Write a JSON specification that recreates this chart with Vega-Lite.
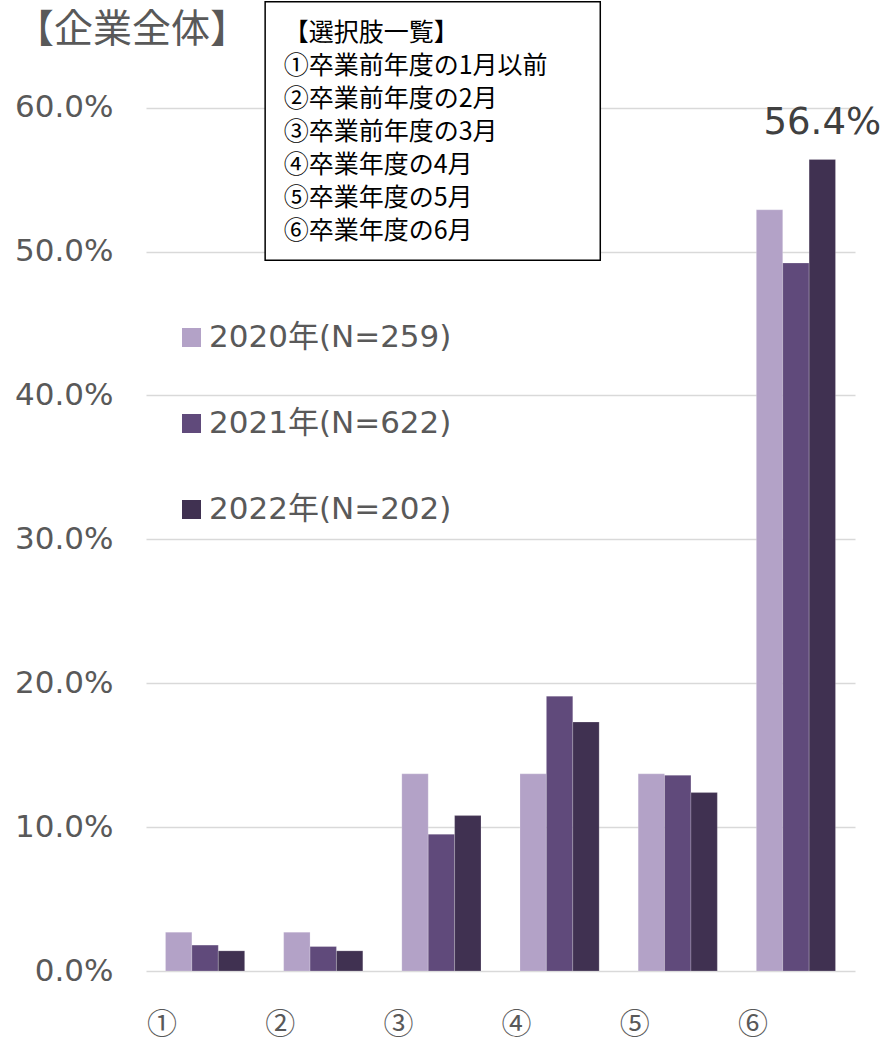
{
  "$schema": "https://vega.github.io/schema/vega-lite/v6.json",
  "width": 709,
  "height": 971,
  "autosize": "none",
  "padding": {"left": 146, "top": 0, "right": 27, "bottom": 70},
  "background": "white",
  "view": {"stroke": null},
  "datasets": {
    "bars": [
      {"cat": "①", "year": "2020年(N=259)", "value": 0.027},
      {"cat": "①", "year": "2021年(N=622)", "value": 0.018},
      {"cat": "①", "year": "2022年(N=202)", "value": 0.014},
      {"cat": "②", "year": "2020年(N=259)", "value": 0.027},
      {"cat": "②", "year": "2021年(N=622)", "value": 0.017},
      {"cat": "②", "year": "2022年(N=202)", "value": 0.014},
      {"cat": "③", "year": "2020年(N=259)", "value": 0.137},
      {"cat": "③", "year": "2021年(N=622)", "value": 0.095},
      {"cat": "③", "year": "2022年(N=202)", "value": 0.108},
      {"cat": "④", "year": "2020年(N=259)", "value": 0.137},
      {"cat": "④", "year": "2021年(N=622)", "value": 0.191},
      {"cat": "④", "year": "2022年(N=202)", "value": 0.173},
      {"cat": "⑤", "year": "2020年(N=259)", "value": 0.137},
      {"cat": "⑤", "year": "2021年(N=622)", "value": 0.136},
      {"cat": "⑤", "year": "2022年(N=202)", "value": 0.124},
      {"cat": "⑥", "year": "2020年(N=259)", "value": 0.529},
      {"cat": "⑥", "year": "2021年(N=622)", "value": 0.492},
      {"cat": "⑥", "year": "2022年(N=202)", "value": 0.564}
    ],
    "note": [
      {"title": "【企業全体】", "lines": ["【選択肢一覧】", "①卒業前年度の1月以前", "②卒業前年度の2月", "③卒業前年度の3月", "④卒業年度の4月", "⑤卒業年度の5月", "⑥卒業年度の6月"]}
    ]
  },
  "layer": [
    {
      "data": {"name": "bars"},
      "mark": {"type": "bar", "stroke": "white", "strokeWidth": 0.5, "strokeOpacity": 0.4},
      "encoding": {
        "x": {
          "field": "cat", "type": "nominal", "sort": null,
          "scale": {"paddingInner": 0.33, "paddingOuter": 0.165},
          "axis": {
            "title": null, "labelAngle": 0, "ticks": false, "tickSize": 0, "domain": false,
            "labelFontSize": 30, "labelColor": "#595959", "labelFont": "Noto Sans CJK JP",
            "labelPadding": 38, "labelOffset": -43
          }
        },
        "xOffset": {"field": "year", "type": "nominal", "scale": {"paddingInner": 0, "paddingOuter": 0}},
        "y": {
          "field": "value", "type": "quantitative",
          "scale": {"domain": [0, 0.6748], "nice": false, "zero": true},
          "axis": {
            "title": null, "values": [0, 0.1, 0.2, 0.3, 0.4, 0.5, 0.6], "format": ".1%",
            "ticks": false, "domain": false, "labelPadding": 33,
            "labelFontSize": 31, "labelColor": "#595959", "labelFont": "DejaVu Sans",
            "gridColor": "#d9d9d9", "gridWidth": 1.5
          }
        },
        "color": {
          "field": "year", "type": "nominal",
          "scale": {"range": ["#b3a2c7", "#604a7b", "#403151"]},
          "legend": {
            "title": null, "orient": "none", "legendX": 30, "legendY": 322,
            "symbolType": "square", "symbolSize": 361, "symbolStrokeWidth": 0,
            "labelFontSize": 31, "labelColor": "#595959", "labelFont": "DejaVu Sans, Noto Sans CJK JP",
            "rowPadding": 54, "labelOffset": 2, "labelLimit": 500
          }
        }
      }
    },
    {
      "data": {"name": "bars"},
      "transform": [{"filter": "datum.cat === '⑥' && datum.year === '2022年(N=202)'"}],
      "mark": {"type": "text", "fontSize": 37, "font": "DejaVu Sans", "color": "#404040", "baseline": "alphabetic", "dy": -25, "align": "center"},
      "encoding": {
        "x": {"field": "cat", "type": "nominal", "sort": null},
        "xOffset": {"field": "year", "type": "nominal"},
        "y": {"field": "value", "type": "quantitative"},
        "text": {"field": "value", "type": "quantitative", "format": ".1%"}
      }
    },
    {
      "data": {"name": "note"},
      "mark": {"type": "text", "fontSize": 39, "font": "Noto Sans CJK JP", "color": "#595959", "align": "left", "baseline": "middle"},
      "encoding": {
        "x": {"datum": "①", "bandPosition": -1.9},
        "y": {"datum": 0.654},
        "text": {"field": "title"}
      }
    },
    {
      "data": {"name": "note"},
      "mark": {"type": "rect", "fill": "white", "stroke": "black", "strokeWidth": 1.5},
      "encoding": {
        "x": {"datum": "②", "bandPosition": -0.234},
        "x2": {"datum": "④", "bandPosition": 1.014},
        "y": {"datum": 0.494},
        "y2": {"datum": 0.6735}
      }
    },
    {
      "data": {"name": "note"},
      "mark": {"type": "text", "fontSize": 25, "font": "Noto Sans CJK JP", "color": "black", "align": "left", "baseline": "top", "lineHeight": 33, "dx": 0, "dy": 19},
      "encoding": {
        "x": {"datum": "②", "bandPosition": 0},
        "y": {"datum": 0.6735},
        "text": {"field": "lines"}
      }
    }
  ]
}
